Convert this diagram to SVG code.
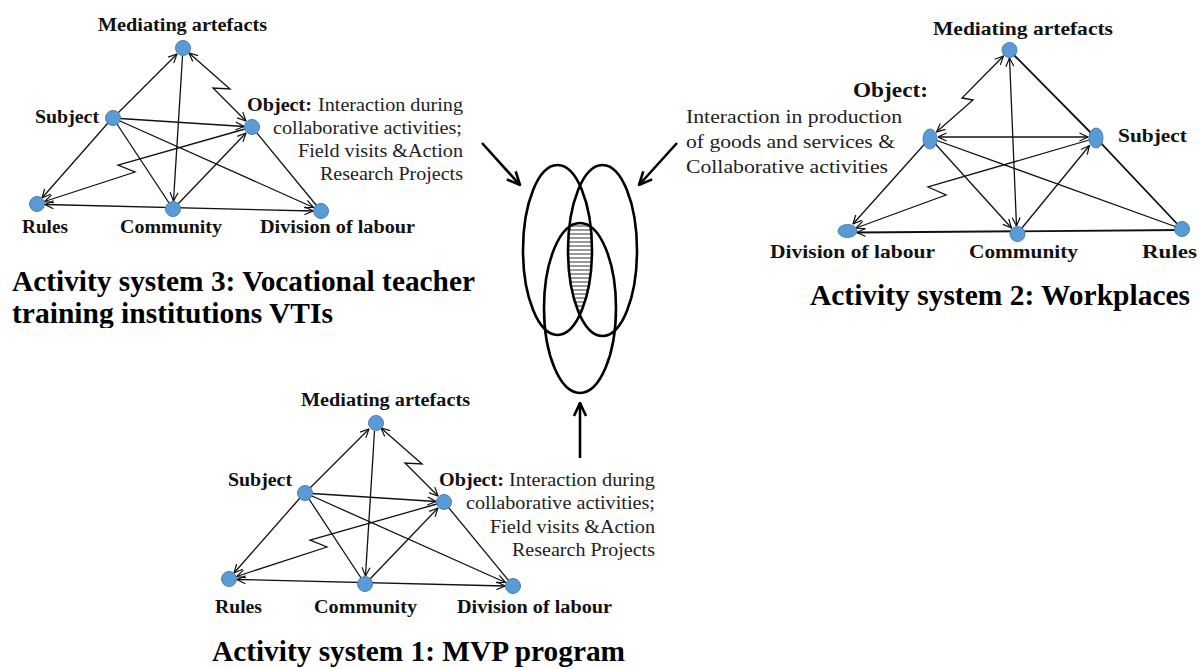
<svg xmlns="http://www.w3.org/2000/svg" width="1200" height="669" viewBox="0 0 1200 669">
<style>
.lb{font-family:"Liberation Serif","Times New Roman",serif;font-weight:bold;font-size:18px;fill:#111}
.lb2{font-family:"Liberation Serif","Times New Roman",serif;font-weight:bold;font-size:19px;fill:#111}
.tx{font-family:"Liberation Serif","Times New Roman",serif;font-size:18.5px;fill:#222}
.ti{font-family:"Liberation Serif","Times New Roman",serif;font-weight:bold;font-size:29px;fill:#000}
.nd{fill:#5b9bd5;stroke:#4a7fb5;stroke-width:1}
.e{fill:none;stroke:#111;stroke-width:1.3}
.ea{fill:none;stroke:#111;stroke-width:1.3;marker-end:url(#ah)}
.eb{fill:none;stroke:#111;stroke-width:1.3;marker-start:url(#ah);marker-end:url(#ah)}
.ev{fill:none;stroke:#000;stroke-width:2.6}
.va{fill:none;stroke:#000;stroke-width:2.6;marker-end:url(#bh)}
</style>
<defs>
<marker id="ah" viewBox="0 0 10 10" refX="9.5" refY="5" markerWidth="10" markerHeight="10" markerUnits="userSpaceOnUse" orient="auto-start-reverse">
<path d="M1,1 L9.5,5 L1,9" fill="none" stroke="#111" stroke-width="1.2"/>
</marker>
<marker id="bh" viewBox="0 0 16 16" refX="15" refY="8" markerWidth="16" markerHeight="16" markerUnits="userSpaceOnUse" orient="auto">
<path d="M2,2 L15,8 L2,14" fill="none" stroke="#000" stroke-width="2.6"/>
</marker>
<pattern id="hatch" width="8" height="4" patternUnits="userSpaceOnUse">
<line x1="0" y1="2" x2="8" y2="2" stroke="#333" stroke-width="1"/>
</pattern>
<clipPath id="cL"><ellipse cx="557.5" cy="250" rx="34.5" ry="85"/></clipPath>
<clipPath id="cR"><ellipse cx="602.5" cy="250.5" rx="34.5" ry="85.5"/></clipPath>
<clipPath id="cB"><ellipse cx="580" cy="308" rx="36" ry="85"/></clipPath>
<clipPath id="cut"><rect x="0" y="0" width="1200" height="328"/></clipPath>
</defs>
<rect width="1200" height="669" fill="#fff"/>

<!-- connectors -->
<g id="connectors">
  <g id="edges-sys3">
    <path class="ea" d="M118,113 L177,54"/>
    <path class="eb" d="M189,53 L230,89 L213,88 L246,121"/>
    <path class="ea" d="M120,118.5 L244,126.5"/>
    <path class="ea" d="M108,123 L42,198"/>
    <path class="e" d="M113,118 L173,209"/>
    <path class="ea" d="M120,121 L313.5,207.5"/>
    <path class="ea" d="M182.5,56 L173.5,201"/>
    <path class="ea" d="M245,129 L118,165 L135,172 L44.5,201.5"/>
    <path class="ea" d="M178,204 L246,133"/>
    <path class="e" d="M252,127 L321,211"/>
    <path class="eb" d="M45,204.5 L313,211"/>
  </g>
  <g id="edges-sys1" transform="translate(192,375)">
    <path class="ea" d="M118,113 L177,54"/>
    <path class="eb" d="M189,53 L230,89 L213,88 L246,121"/>
    <path class="ea" d="M120,118.5 L244,126.5"/>
    <path class="ea" d="M108,123 L42,198"/>
    <path class="e" d="M113,118 L173,209"/>
    <path class="ea" d="M120,121 L313.5,207.5"/>
    <path class="ea" d="M182.5,56 L173.5,201"/>
    <path class="ea" d="M245,129 L118,165 L135,172 L44.5,201.5"/>
    <path class="ea" d="M178,204 L246,133"/>
    <path class="e" d="M252,127 L321,211"/>
    <path class="eb" d="M45,204.5 L313,211"/>
  </g>
  <g id="edges-sys2">
    <path class="eb" d="M1003.5,56 L962,98 L973,100 L936.5,132"/>
    <path class="eb" d="M1009.5,58 L1016.5,226"/>
    <path class="e" style="stroke-width:1.8" d="M1009,50 L1096,138 L1182,229"/>
    <path class="eb" d="M938,137 L1088,137"/>
    <path class="ea" d="M930,138 L853,224"/>
    <path class="ea" d="M930,138 L1011.5,228"/>
    <path class="e" d="M930,138 L1182,229"/>
    <path class="ea" d="M1096,138 L928,187 L946,195 L856,228"/>
    <path class="ea" d="M1017,234 L1089.5,145.5"/>
    <path class="e" style="stroke-width:1.8;marker-start:url(#ah)" d="M857,232.5 L1182,230"/>
  </g>
  <g id="venn-arrows">
    <path class="va" d="M482,143 L520,185"/>
    <path class="va" d="M677,143 L639,185"/>
    <path class="va" d="M580,458 L580,403"/>
  </g>
</g>

<!-- Venn diagram -->
<g id="venn">
  <g clip-path="url(#cL)"><g clip-path="url(#cR)"><rect x="540" y="215" width="80" height="110" fill="url(#hatch)" clip-path="url(#cB)"/></g></g>
  <ellipse class="ev" cx="557.5" cy="250" rx="34.5" ry="85"/>
  <ellipse class="ev" cx="602.5" cy="250.5" rx="34.5" ry="85.5"/>
  <ellipse class="ev" cx="580" cy="308" rx="36" ry="85"/>
</g>

<!-- Activity system 3 -->
<g id="s3-mediating">
  <circle class="nd" cx="183" cy="48" r="7.5"/>
  <text class="lb" x="98" y="31" textLength="169" lengthAdjust="spacingAndGlyphs">Mediating artefacts</text>
</g>
<g id="s3-subject">
  <circle class="nd" cx="113" cy="118" r="7.5"/>
  <text class="lb" x="35" y="123" textLength="64" lengthAdjust="spacingAndGlyphs">Subject</text>
</g>
<g id="s3-object">
  <circle class="nd" cx="252" cy="127" r="7.5"/>
  <text class="lb" x="247" y="111" textLength="65" lengthAdjust="spacingAndGlyphs">Object:</text>
  <text class="tx" x="318" y="111" textLength="145" lengthAdjust="spacingAndGlyphs">Interaction during</text>
  <text class="tx" x="273" y="134" textLength="189" lengthAdjust="spacingAndGlyphs">collaborative activities;</text>
  <text class="tx" x="298" y="157" textLength="165" lengthAdjust="spacingAndGlyphs">Field visits &amp;Action</text>
  <text class="tx" x="320" y="180" textLength="143" lengthAdjust="spacingAndGlyphs">Research Projects</text>
</g>
<g id="s3-rules">
  <circle class="nd" cx="37" cy="204" r="7.5"/>
  <text class="lb" x="22" y="233" textLength="46" lengthAdjust="spacingAndGlyphs">Rules</text>
</g>
<g id="s3-community">
  <circle class="nd" cx="173" cy="209" r="7.5"/>
  <text class="lb" x="120" y="233" textLength="102" lengthAdjust="spacingAndGlyphs">Community</text>
</g>
<g id="s3-division">
  <circle class="nd" cx="321" cy="211" r="7.5"/>
  <text class="lb" x="260" y="233" textLength="155" lengthAdjust="spacingAndGlyphs">Division of labour</text>
</g>
<g id="s3-title" clip-path="url(#cut)">
  <text class="ti" x="12" y="291" textLength="463" lengthAdjust="spacingAndGlyphs">Activity system 3: Vocational teacher</text>
  <text class="ti" x="12" y="323" textLength="321" lengthAdjust="spacingAndGlyphs">training institutions VTIs</text>
</g>

<!-- Activity system 1 -->
<g id="s1-mediating">
  <circle class="nd" cx="376" cy="423" r="7.5"/>
  <text class="lb" x="301" y="406" textLength="169" lengthAdjust="spacingAndGlyphs">Mediating artefacts</text>
</g>
<g id="s1-subject">
  <circle class="nd" cx="305" cy="493" r="7.5"/>
  <text class="lb" x="228" y="486" textLength="64" lengthAdjust="spacingAndGlyphs">Subject</text>
</g>
<g id="s1-object">
  <circle class="nd" cx="444" cy="502" r="7.5"/>
  <text class="lb" x="439" y="486" textLength="65" lengthAdjust="spacingAndGlyphs">Object:</text>
  <text class="tx" x="509" y="486" textLength="146" lengthAdjust="spacingAndGlyphs">Interaction during</text>
  <text class="tx" x="466" y="509" textLength="189" lengthAdjust="spacingAndGlyphs">collaborative activities;</text>
  <text class="tx" x="490" y="533" textLength="165" lengthAdjust="spacingAndGlyphs">Field visits &amp;Action</text>
  <text class="tx" x="512" y="556" textLength="143" lengthAdjust="spacingAndGlyphs">Research Projects</text>
</g>
<g id="s1-rules">
  <circle class="nd" cx="229" cy="579" r="7.5"/>
  <text class="lb" x="215" y="613" textLength="47" lengthAdjust="spacingAndGlyphs">Rules</text>
</g>
<g id="s1-community">
  <circle class="nd" cx="365" cy="584" r="7.5"/>
  <text class="lb" x="314" y="613" textLength="103" lengthAdjust="spacingAndGlyphs">Community</text>
</g>
<g id="s1-division">
  <circle class="nd" cx="513" cy="586" r="7.5"/>
  <text class="lb" x="457" y="613" textLength="155" lengthAdjust="spacingAndGlyphs">Division of labour</text>
</g>
<g id="s1-title">
  <text class="ti" x="212" y="661" textLength="413" lengthAdjust="spacingAndGlyphs">Activity system 1: MVP program</text>
</g>

<!-- Activity system 2 -->
<g id="s2-mediating">
  <circle class="nd" cx="1009.5" cy="50" r="7.5"/>
  <text class="lb2" x="933" y="35" textLength="180" lengthAdjust="spacingAndGlyphs">Mediating artefacts</text>
</g>
<g id="s2-object">
  <ellipse class="nd" cx="930" cy="139" rx="7" ry="10"/>
  <text class="lb2" style="font-size:22px" x="853" y="97" textLength="75" lengthAdjust="spacingAndGlyphs">Object:</text>
  <text class="tx" x="686" y="123" textLength="216" lengthAdjust="spacingAndGlyphs">Interaction in production</text>
  <text class="tx" x="686" y="148" textLength="209" lengthAdjust="spacingAndGlyphs">of goods and services &amp;</text>
  <text class="tx" x="686" y="173" textLength="202" lengthAdjust="spacingAndGlyphs">Collaborative activities</text>
</g>
<g id="s2-subject">
  <ellipse class="nd" cx="1096" cy="138" rx="7" ry="10"/>
  <text class="lb2" x="1118" y="142" textLength="69" lengthAdjust="spacingAndGlyphs">Subject</text>
</g>
<g id="s2-division">
  <ellipse class="nd" cx="847.5" cy="231" rx="9.5" ry="6.5"/>
  <text class="lb2" x="770" y="258" textLength="165" lengthAdjust="spacingAndGlyphs">Division of labour</text>
</g>
<g id="s2-community">
  <circle class="nd" cx="1017.5" cy="234" r="7.5"/>
  <text class="lb2" x="969" y="258" textLength="109" lengthAdjust="spacingAndGlyphs">Community</text>
</g>
<g id="s2-rules">
  <circle class="nd" cx="1182" cy="229" r="7.5"/>
  <text class="lb2" x="1142" y="258" textLength="55" lengthAdjust="spacingAndGlyphs">Rules</text>
</g>
<g id="s2-title">
  <text class="ti" x="810" y="305" textLength="380" lengthAdjust="spacingAndGlyphs">Activity system 2: Workplaces</text>
</g>
</svg>
